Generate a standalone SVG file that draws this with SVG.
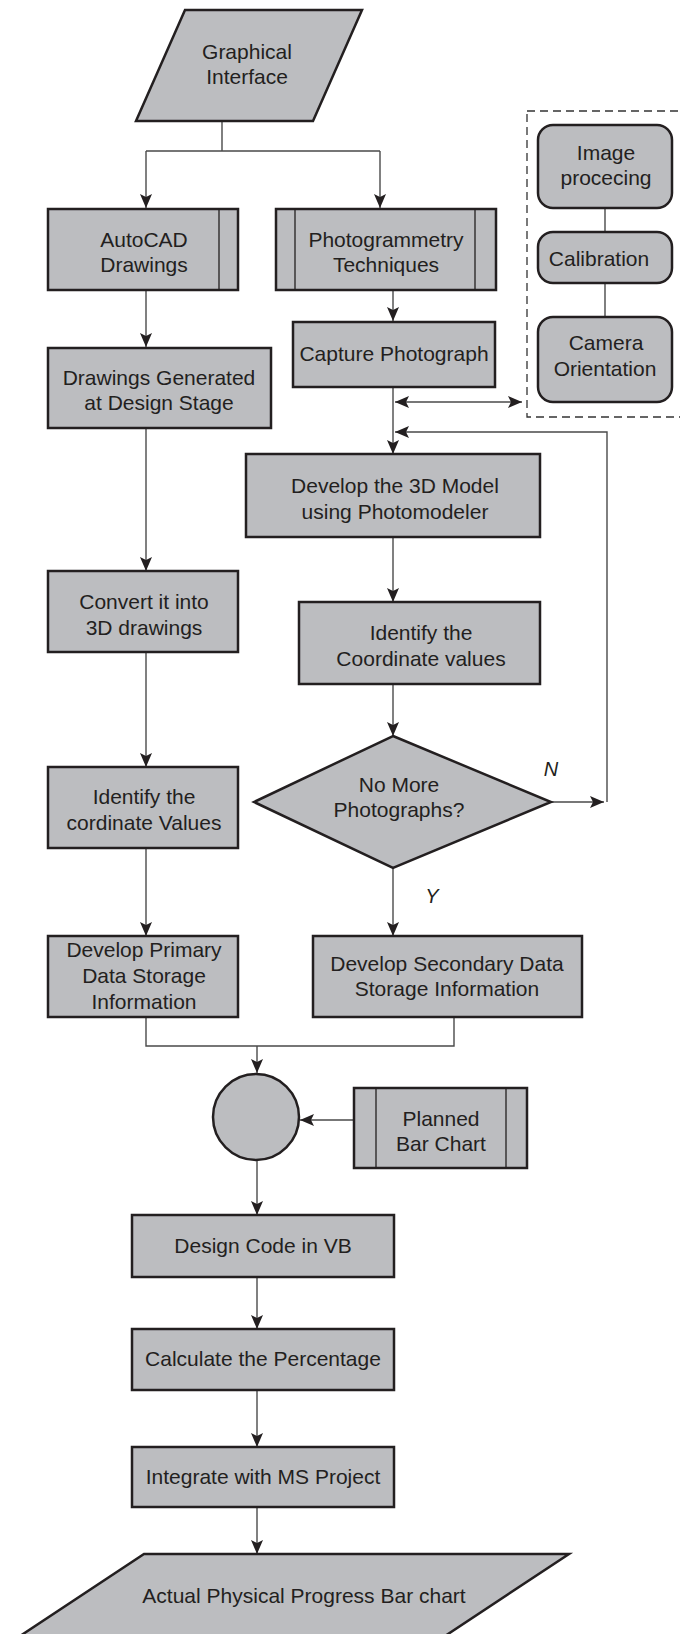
<svg xmlns="http://www.w3.org/2000/svg" width="680" height="1634" viewBox="0 0 680 1634">
<style>
.n{fill:#bcbdc0;stroke:#231f20;stroke-width:2.5}
.in{stroke:#231f20;stroke-width:1.3;fill:none}
.t{font-family:"Liberation Sans",Arial,sans-serif;font-size:21px;fill:#231f20;text-anchor:middle}
.c{fill:none;stroke:#4a4a4a;stroke-width:1.4}
.lbl{font-family:"Liberation Sans",Arial,sans-serif;font-size:20px;font-style:italic;fill:#231f20;text-anchor:middle}
</style>
<defs>
<marker id="ah" markerUnits="userSpaceOnUse" markerWidth="16" markerHeight="12" refX="14" refY="6" orient="auto-start-reverse">
<path d="M0,0 L14,6 L0,12 L3,6 Z" fill="#231f20"/>
</marker>
</defs>
<rect width="680" height="1634" fill="#fff"/>

<g id="connectors">
<path class="c" d="M222,121 V151 M146,151 H380"/>
<path class="c" d="M146,151 V208" marker-end="url(#ah)"/>
<path class="c" d="M380,151 V208" marker-end="url(#ah)"/>
<path class="c" d="M146,290 V347" marker-end="url(#ah)"/>
<path class="c" d="M393,290 V321" marker-end="url(#ah)"/>
<path class="c" d="M393,387 V454" marker-end="url(#ah)"/>
<path class="c" d="M395,402 H522" marker-start="url(#ah)" marker-end="url(#ah)"/>
<path class="c" d="M551,802 H604" marker-end="url(#ah)"/>
<path class="c" d="M607,802 V432 H395" marker-end="url(#ah)"/>
<path class="c" d="M393,537 V602" marker-end="url(#ah)"/>
<path class="c" d="M393,684 V736" marker-end="url(#ah)"/>
<path class="c" d="M393,868 V936" marker-end="url(#ah)"/>
<path class="c" d="M146,428 V571" marker-end="url(#ah)"/>
<path class="c" d="M146,652 V767" marker-end="url(#ah)"/>
<path class="c" d="M146,848 V936" marker-end="url(#ah)"/>
<path class="c" d="M146,1017 V1046 H454 V1017"/>
<path class="c" d="M257,1046 V1073" marker-end="url(#ah)"/>
<path class="c" d="M354,1120 H300" marker-end="url(#ah)"/>
<path class="c" d="M257,1161 V1215" marker-end="url(#ah)"/>
<path class="c" d="M257,1277 V1329" marker-end="url(#ah)"/>
<path class="c" d="M257,1390 V1447" marker-end="url(#ah)"/>
<path class="c" d="M257,1507 V1554" marker-end="url(#ah)"/>
<path class="c" d="M605,208 V232 M605,283 V317"/>
<text class="lbl" x="551" y="776">N</text>
<text class="lbl" x="432" y="903">Y</text>
</g>

<g id="group-box">
<rect x="527" y="111" width="200" height="306" fill="none" stroke="#333" stroke-width="1.3" stroke-dasharray="8,5"/>
</g>

<g id="graphical-interface">
<polygon class="n" points="185,10 362,10 313,121 136,121"/>
<text class="t" x="247" y="59">Graphical</text>
<text class="t" x="247" y="84">Interface</text>
</g>

<g id="autocad">
<rect class="n" x="48" y="209" width="190" height="81"/>
<line class="in" x1="219" y1="209" x2="219" y2="290"/>
<text class="t" x="144" y="247">AutoCAD</text>
<text class="t" x="144" y="272">Drawings</text>
</g>

<g id="photogrammetry">
<rect class="n" x="276" y="209" width="220" height="81"/>
<line class="in" x1="295" y1="209" x2="295" y2="290"/>
<line class="in" x1="475" y1="209" x2="475" y2="290"/>
<text class="t" x="386" y="247">Photogrammetry</text>
<text class="t" x="386" y="272">Techniques</text>
</g>

<g id="capture">
<rect class="n" x="293" y="322" width="202" height="65"/>
<text class="t" x="394" y="361">Capture Photograph</text>
</g>

<g id="image-processing">
<rect class="n" x="538" y="125" width="134" height="83" rx="15"/>
<text class="t" x="606" y="160">Image</text>
<text class="t" x="606" y="185">procecing</text>
</g>

<g id="calibration">
<rect class="n" x="538" y="232" width="134" height="51" rx="15"/>
<text class="t" x="599" y="266">Calibration</text>
</g>

<g id="camera-orientation">
<rect class="n" x="538" y="317" width="134" height="85" rx="15"/>
<text class="t" x="606" y="350">Camera</text>
<text class="t" x="605" y="376">Orientation</text>
</g>

<g id="drawings-generated">
<rect class="n" x="48" y="348" width="223" height="80"/>
<text class="t" x="159" y="385">Drawings Generated</text>
<text class="t" x="159" y="410">at Design Stage</text>
</g>

<g id="develop-3d">
<rect class="n" x="246" y="454" width="294" height="83"/>
<text class="t" x="395" y="493">Develop the 3D Model</text>
<text class="t" x="395" y="519">using Photomodeler</text>
</g>

<g id="identify-coordinate">
<rect class="n" x="299" y="602" width="241" height="82"/>
<text class="t" x="421" y="640">Identify the</text>
<text class="t" x="421" y="666">Coordinate values</text>
</g>

<g id="decision">
<polygon class="n" points="393,736 551,802 393,868 254,802"/>
<text class="t" x="399" y="792">No More</text>
<text class="t" x="399" y="817">Photographs?</text>
</g>

<g id="convert-3d">
<rect class="n" x="48" y="571" width="190" height="81"/>
<text class="t" x="144" y="609">Convert it into</text>
<text class="t" x="144" y="635">3D drawings</text>
</g>

<g id="identify-cordinate">
<rect class="n" x="48" y="767" width="190" height="81"/>
<text class="t" x="144" y="804">Identify the</text>
<text class="t" x="144" y="830">cordinate Values</text>
</g>

<g id="primary-storage">
<rect class="n" x="48" y="936" width="190" height="81"/>
<text class="t" x="144" y="957">Develop Primary</text>
<text class="t" x="144" y="983">Data Storage</text>
<text class="t" x="144" y="1009">Information</text>
</g>

<g id="secondary-storage">
<rect class="n" x="313" y="936" width="269" height="81"/>
<text class="t" x="447" y="971">Develop Secondary Data</text>
<text class="t" x="447" y="996">Storage Information</text>
</g>

<g id="connector-circle">
<circle class="n" cx="256" cy="1117" r="43"/>
</g>

<g id="planned-bar-chart">
<rect class="n" x="354" y="1088" width="173" height="80"/>
<line class="in" x1="376" y1="1088" x2="376" y2="1168"/>
<line class="in" x1="506" y1="1088" x2="506" y2="1168"/>
<text class="t" x="441" y="1126">Planned</text>
<text class="t" x="441" y="1151">Bar Chart</text>
</g>

<g id="design-code">
<rect class="n" x="132" y="1215" width="262" height="62"/>
<text class="t" x="263" y="1253">Design Code in VB</text>
</g>

<g id="calculate">
<rect class="n" x="132" y="1329" width="262" height="61"/>
<text class="t" x="263" y="1366">Calculate the Percentage</text>
</g>

<g id="integrate">
<rect class="n" x="132" y="1447" width="262" height="60"/>
<text class="t" x="263" y="1484">Integrate with MS Project</text>
</g>

<g id="actual-progress">
<polygon class="n" points="144,1554 569,1554 436,1642 11,1642"/>
<text class="t" x="304" y="1603">Actual Physical Progress Bar chart</text>
</g>
</svg>
